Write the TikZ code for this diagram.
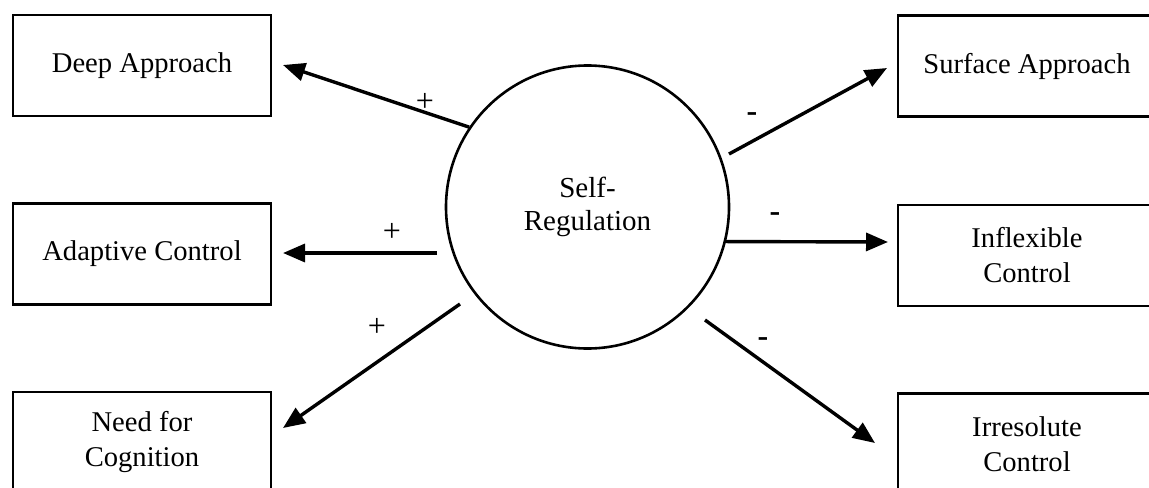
\documentclass[tikz,border=0pt]{standalone}
\usepackage{fontspec}
\setmainfont{Liberation Serif}
\usetikzlibrary{arrows.meta}
\tikzset{
  box/.style={draw, line width=1.4pt, rectangle, minimum width=129pt, minimum height=50.5pt, align=center, inner sep=0pt,
    font=\fontsize{14.3}{17.5}\selectfont},
  hub/.style={draw, line width=1.3pt, circle, minimum size=141.5pt, align=center, inner sep=0pt,
    font=\fontsize{14.5}{16.5}\selectfont},
  link/.style={line width=1.7pt, -{Triangle[length=11pt,width=9pt]}},
  sign/.style={font=\fontsize{16}{17}\selectfont, inner sep=0pt},
  minus/.style={font=\fontsize{16}{17}\selectfont\bfseries, inner sep=0pt}
}
\begin{document}
\begin{tikzpicture}[x=0.5pt, y=-0.5pt]
\useasboundingbox (0,0) rectangle (1149,487);
\clip (0,0) rectangle (1149,487);
% boxes
\node[box] (deep) at (142,65.5) {Deep Approach};
\node[box] (adapt) at (142,254) {Adaptive Control};
\node[box] (need) at (142,442.5) {Need for\\Cognition};
\node[box] (surf) at (1027,66) {Surface Approach};
\node[box] (infl) at (1027,255.5) {Inflexible\\Control};
\node[box] (irre) at (1027,444) {Irresolute\\Control};
% hub
\node[hub] (sr) at (587.5,207) {Self-\\Regulation};
% connector ends
\coordinate (tDeep) at (283,65);
\coordinate (tAdapt) at (283,253);
\coordinate (tNeed) at (283,428);
\coordinate (tSurf) at (887,68);
\coordinate (tInfl) at (888,242);
\coordinate (tIrre) at (875,443);
\coordinate (sAdapt) at (437,253);
\coordinate (sNeed) at (460,304);
\coordinate (sSurf) at (729,154);
\coordinate (sIrre) at (705,320);
% connectors
\draw[link] (sr.146) -- (tDeep);
\draw[link] (sAdapt) -- (tAdapt);
\draw[link] (sNeed) -- (tNeed);
\draw[link] (sSurf) -- (tSurf);
\draw[link] (sr.-14.7) -- (tInfl);
\draw[link] (sIrre) -- (tIrre);
% signs
\node[sign] (p1) at (425,102) {+};
\node[sign] (p2) at (392,232) {+};
\node[sign] (p3) at (377,327) {+};
\node[minus] (m1) at (752,117) {-};
\node[minus] (m2) at (775,217) {-};
\node[minus] (m3) at (763,342) {-};
\end{tikzpicture}
\end{document}
